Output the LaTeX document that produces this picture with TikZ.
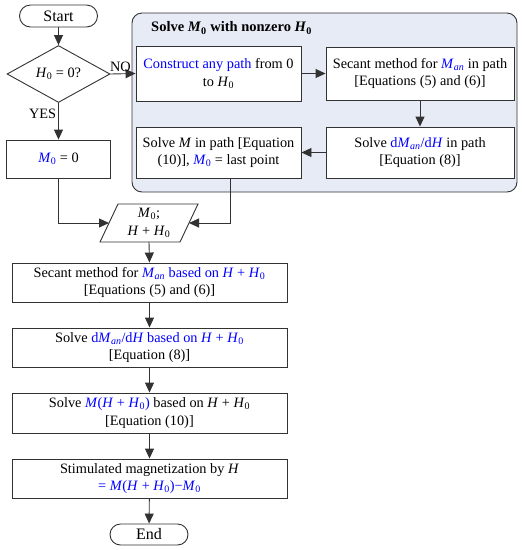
\documentclass[tikz,border=0pt]{standalone}
\usepackage{fontspec}
\setmainfont{Liberation Serif}
\usetikzlibrary{shapes.geometric,arrows.meta,calc}
\definecolor{grpfill}{RGB}{230,235,245}
\definecolor{ln}{RGB}{50,50,50}
\newcommand{\bl}[1]{\textcolor{blue}{#1}}
\newcommand{\iM}{\textit{M}}
\newcommand{\iH}{\textit{H}}
\newcommand{\Mo}{\textit{M}\textsubscript{0}}
\newcommand{\Ho}{\textit{H}\textsubscript{0}}
\newcommand{\Man}{\textit{M}\textsubscript{\textit{an}}}
\begin{document}
\begin{tikzpicture}[x=1pt,y=-1pt,
  font=\fontsize{14.3}{17.7}\selectfont,
  every node/.style={align=center,inner sep=1pt},
  box/.style={draw=ln,line width=0.9pt,fill=white,minimum height=#1},
  box/.default=39pt,
  term/.style={draw=ln,line width=0.9pt,rounded corners=11pt,minimum width=78pt,minimum height=22pt},
  arr/.style={draw=ln,line width=0.9pt,-{Triangle[length=10pt,width=9pt]}},
  ln/.style={draw=ln,line width=0.9pt}]
\useasboundingbox (0,0) rectangle (522,550);
% group
\draw[ln,fill=grpfill,rounded corners=10pt] (132,13) rectangle (517,192);
\node[anchor=west,font=\fontsize{14.5}{16}\selectfont\bfseries] (title) at (150,28) {Solve \textit{M}\textsubscript{0} with nonzero \textit{H}\textsubscript{0}};
% left column
\node[term,font=\fontsize{16}{18}\selectfont] (start) at (58.5,16) {Start};
\node[draw=ln,line width=0.9pt,diamond,inner sep=0pt,minimum width=103pt,minimum height=38pt] (dec) at (58.5,74) {\Ho{} = 0?};
\node[box=38pt,minimum width=104pt] (m0) at (58.5,159) {\bl{\Mo} = 0};
% group boxes
\node[box=55pt,minimum width=165pt] (b1) at (218.5,73.5) {\bl{Construct any path} from 0\\to \Ho};
\node[box=53pt,minimum width=188pt] (b2) at (420,73.5) {Secant method for \bl{\Man} in path\\{}[Equations (5) and (6)]};
\node[box=51pt,minimum width=188pt] (b3) at (420,152.5) {Solve \bl{d\Man/d\iH} in path\\{}[Equation (8)]};
\node[box=51pt,minimum width=165pt] (b4) at (218.5,152.5) {Solve \iM{} in path [Equation\\(10)], \bl{\Mo} = last point};
% parallelogram
\coordinate (pl) at (109,223);
\coordinate (pr) at (189,223);
\draw[ln] (118,204) -- (198,204) -- (180,242) -- (100,242) -- cycle;
\node (par) at (149,223) {\Mo;\\\iH{} + \Ho};
\coordinate (pb) at (149,242);
% main column
\node[box=39pt,minimum width=275pt] (b5) at (149.5,282.5) {Secant method for \bl{\Man{} based on \iH{} + \Ho}\\{}[Equations (5) and (6)]};
\node[box=39pt,minimum width=275pt] (b6) at (149.5,347.5) {Solve \bl{d\Man/d\iH{} based on \iH{} + \Ho}\\{}[Equation (8)]};
\node[box=40pt,minimum width=275pt] (b7) at (149.5,413) {Solve \bl{\iM(\iH{} + \Ho)} based on \iH{} + \Ho\\{}[Equation (10)]};
\node[box=39pt,minimum width=275pt] (b8) at (149.5,478.5) {Stimulated magnetization by \iH\\\bl{= \iM(\iH{} + \Ho)−\Mo}};
\node[term,minimum height=21pt,minimum width=78pt,rounded corners=10.5pt,font=\fontsize{16}{18}\selectfont] (end) at (149,534.5) {End};
% connectors
\draw[arr] (start) -- (dec);
\draw[arr] (dec.east) -- node[above,pos=0.4,inner sep=2pt] {NO} (b1.west);
\draw[arr] (dec.south) -- node[left,pos=0.3,xshift=-1pt] {YES} (m0.north);
\draw[arr] (b1) -- (b2);
\draw[arr] (b2) -- (b3);
\draw[arr] (b3) -- (b4);
\draw[arr] (m0.south) |- (pl);
\draw[arr] ($(b4.south)+(12,0)$) |- (pr);
\draw[arr] (pb) -- (b5.north);
\draw[arr] (b5) -- (b6);
\draw[arr] (b6) -- (b7);
\draw[arr] (b7) -- (b8);
\draw[arr] (b8) -- (end);
\end{tikzpicture}
\end{document}
